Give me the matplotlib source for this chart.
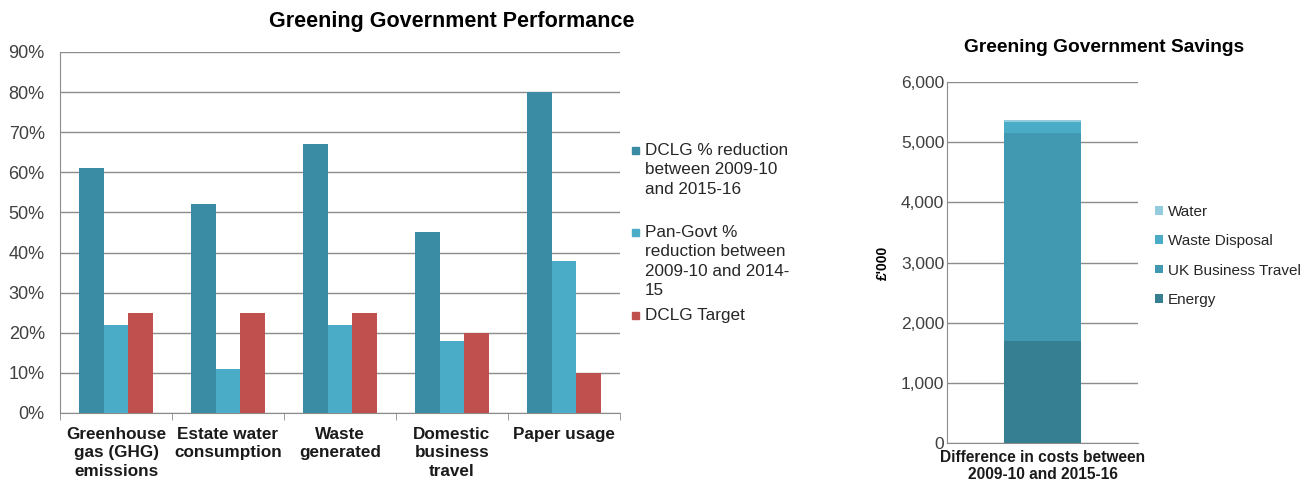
import matplotlib
matplotlib.use("Agg")
import matplotlib.pyplot as plt
import numpy as np
from matplotlib.patches import Rectangle
from matplotlib.ticker import FuncFormatter, FixedLocator

plt.rcParams['font.family'] = ['Liberation Sans', 'DejaVu Sans']

# data - performance chart
categories = ["Greenhouse\ngas (GHG)\nemissions", "Estate water\nconsumption", "Waste\ngenerated",
              "Domestic\nbusiness\ntravel", "Paper usage"]
dclg = [61, 52, 67, 45, 80]
pan_govt = [22, 11, 22, 18, 38]
target = [25, 25, 25, 20, 10]
perf_labels = ["DCLG % reduction\nbetween 2009-10\nand 2015-16",
               "Pan-Govt %\nreduction between\n2009-10 and 2014-\n15",
               "DCLG Target"]

# data - savings chart
savings_cat = ["Difference in costs between\n2009-10 and 2015-16"]
energy = [1700]
travel = [3450]
waste = [190]
water = [25]
savings_labels = ["Energy", "UK Business Travel", "Waste Disposal", "Water"]

W, H = 1305, 480
grid_col = "#8c8c8c"
txt_col = "#404040"
fig = plt.figure(figsize=(W / 100, H / 100), dpi=100)

# left chart
ax = fig.add_axes([0.046, 0.1396, 0.429, 0.7521])
x = np.arange(len(categories))
w = 0.22
cols = ["#3a8ba4", "#4aacc6", "#c0504d"]
ax.bar(x - w, dclg, w, color=cols[0], zorder=3)
ax.bar(x, pan_govt, w, color=cols[1], zorder=3)
ax.bar(x + w, target, w, color=cols[2], zorder=3)
ax.set_xlim(-0.5, len(categories) - 0.5)
ax.set_ylim(0, 90)
ax.set_yticks(range(0, 91, 10))
ax.yaxis.set_major_formatter(FuncFormatter(lambda v, p: "%d%%" % v))
ax.set_xticks(x)
ax.set_xticklabels(categories, fontsize=12.3, fontweight="bold", color="#1a1a1a", linespacing=1.3)
ax.tick_params(axis="x", which="major", length=0, pad=10)
ax.xaxis.set_minor_locator(FixedLocator(np.arange(-0.5, len(categories), 1)))
ax.tick_params(axis="x", which="minor", length=5, color=grid_col, direction="out")
ax.tick_params(axis="y", length=0, labelsize=13, colors=txt_col, pad=11)
ax.yaxis.grid(True, color=grid_col, linewidth=1, zorder=0)
for s in ["top", "right"]:
    ax.spines[s].set_visible(False)
ax.spines["left"].set_color(grid_col)
ax.spines["bottom"].set_color(grid_col)
fig.text(452 / W, 1 - 22 / H, "Greening Government Performance", ha="center", va="center",
         fontsize=15.5, fontweight="bold")

# legend of the left chart, laid out like the original (square beside first line)
leg_y = [150, 232, 315]
for lab, c, yy in zip(perf_labels, cols, leg_y):
    fig.patches.append(Rectangle((632 / W, 1 - (yy + 3.5) / H), 7 / W, 7 / H,
                                 transform=fig.transFigure, color=c))
    fig.text(645 / W, 1 - (yy - 7) / H, lab, ha="left", va="top", fontsize=12.3,
             color="#262626", linespacing=1.36)

# right chart
ax2 = fig.add_axes([0.7257, 0.077, 0.1464, 0.752])
xs = np.arange(len(savings_cat))
scol = ["#367f93", "#4198b1", "#4aacc6", "#93cddd"]
bottom = np.zeros(len(savings_cat))
handles = []
for vals, c in zip([energy, travel, waste, water], scol):
    h = ax2.bar(xs, vals, 0.4, bottom=bottom, color=c, zorder=3)
    bottom += np.array(vals)
    handles.append(h)
ax2.set_xlim(-0.5, 0.5)
ax2.set_ylim(0, 6000)
ax2.set_yticks(range(0, 6001, 1000))
ax2.yaxis.set_major_formatter(FuncFormatter(lambda v, p: "{:,.0f}".format(v)))
ax2.set_xticks(xs)
ax2.set_xticklabels(savings_cat, fontsize=11.2, fontweight="bold", color="#1a1a1a", linespacing=1.2)
ax2.tick_params(axis="x", length=0, pad=5)
ax2.tick_params(axis="y", length=0, labelsize=12.5, colors=txt_col, pad=2)
ax2.yaxis.grid(True, color=grid_col, linewidth=1, zorder=0)
for s in ["top", "right"]:
    ax2.spines[s].set_visible(False)
ax2.spines["left"].set_color(grid_col)
ax2.spines["bottom"].set_color(grid_col)
ax2.set_ylabel("£'000", fontsize=10, fontweight="bold", labelpad=8)
fig.text(1104 / W, 1 - 47 / H, "Greening Government Savings", ha="center", va="center",
         fontsize=13.8, fontweight="bold")
fig.legend(handles[::-1], savings_labels[::-1], loc="upper left",
           bbox_to_anchor=(1155 / W, 1 - 205 / H),
           frameon=False, fontsize=11, handlelength=0.5, handleheight=0.5,
           handletextpad=0.35, labelspacing=1.0, borderaxespad=0, borderpad=0,
           labelcolor="#262626")

fig.savefig("out.png", dpi=100)
